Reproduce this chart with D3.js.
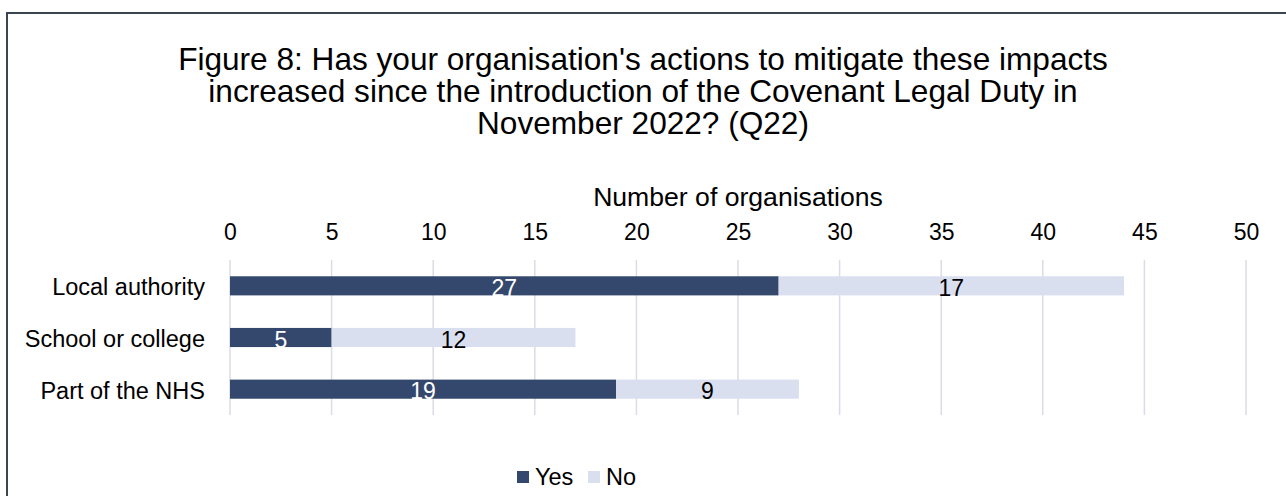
<!DOCTYPE html>
<html><head><meta charset="utf-8">
<script src="https://cdn.jsdelivr.net/npm/d3@7"></script>
<style>body{margin:0;background:#fff}svg{display:block;font-family:"Liberation Sans",Arial,sans-serif}</style>
</head><body><svg id="c" width="1286" height="496"></svg>
<script>
const categories = ["Local authority", "School or college", "Part of the NHS"];
const yesValues = [27, 5, 19];
const noValues = [17, 12, 9];
const seriesNames = ["Yes", "No"];
const tickValues = [0, 5, 10, 15, 20, 25, 30, 35, 40, 45, 50];
const titleLines = ["Figure 8: Has your organisation's actions to mitigate these impacts",
  "increased since the introduction of the Covenant Legal Duty in",
  "November 2022? (Q22)"];
const axisTitle = "Number of organisations";
const colors = ["#34486d", "#dadff0"];
const labelColors = ["#ffffff", "#000000"];

const svg = d3.select("#c");
svg.append("rect").attr("x", 7).attr("y", 13).attr("width", 1300).attr("height", 500)
  .attr("fill", "#fff").attr("stroke", "#3b4550").attr("stroke-width", 2);

svg.append("g").selectAll("text").data(titleLines).join("text")
  .attr("x", 643).attr("y", (d, i) => 70 + i * 32)
  .attr("text-anchor", "middle").attr("font-size", 31.6).attr("fill", "#000").text(d => d);

const x = d3.scaleLinear().domain([0, 50]).range([230, 1246]);
const y = d3.scaleBand().domain(categories).range([260, 415]).paddingInner(0.63).paddingOuter(0.315);

// gridlines
svg.append("g").selectAll("line").data(tickValues).join("line")
  .attr("x1", d => x(d)).attr("x2", d => x(d)).attr("y1", 260).attr("y2", 415)
  .attr("stroke", "#d9dde6").attr("stroke-width", 1.5);

// top axis
const axis = svg.append("g").attr("transform", "translate(0,240)")
  .call(d3.axisTop(x).tickValues(tickValues).tickSize(0).tickPadding(0));
axis.select(".domain").remove();
axis.selectAll("text").attr("font-size", 23).attr("fill", "#000")
  .attr("font-family", "Liberation Sans, Arial, sans-serif").attr("dy", 0);

svg.append("text").attr("x", 738).attr("y", 206).attr("text-anchor", "middle")
  .attr("font-size", 26.6).attr("fill", "#000").text(axisTitle);

// category axis
const yAxis = svg.append("g").attr("transform", "translate(205,2)")
  .call(d3.axisLeft(y).tickSize(0).tickPadding(0));
yAxis.select(".domain").remove();
yAxis.selectAll("text").attr("font-size", 23.5).attr("fill", "#000")
  .attr("font-family", "Liberation Sans, Arial, sans-serif");

const rows = categories.map((c, i) => ({ cat: c, Yes: yesValues[i], No: noValues[i] }));
const stacked = d3.stack().keys(seriesNames)(rows);

const groups = svg.append("g").selectAll("g").data(stacked).join("g")
  .attr("fill", (d, i) => colors[i]);
groups.selectAll("rect").data(d => d).join("rect")
  .attr("x", d => x(d[0])).attr("width", d => x(d[1]) - x(d[0]))
  .attr("y", d => y(d.data.cat)).attr("height", y.bandwidth());

const lg = svg.append("g").selectAll("g").data(stacked).join("g");
lg.each(function (s, si) {
  d3.select(this).selectAll("text").data(s).join("text")
    .attr("x", d => (x(d[0]) + x(d[1])) / 2)
    .attr("y", d => y(d.data.cat) + y.bandwidth() / 2 + 2)
    .attr("dy", "0.35em").attr("text-anchor", "middle")
    .attr("font-size", 23).attr("fill", labelColors[si])
    .text(d => d[1] - d[0]);
});

// legend
const legendItems = [{ name: "Yes", x: 517 }, { name: "No", x: 588 }];
const leg = svg.append("g").selectAll("g").data(legendItems).join("g")
  .attr("transform", d => `translate(${d.x},471)`);
leg.append("rect").attr("width", 12).attr("height", 12).attr("fill", (d, i) => colors[i]);
leg.append("text").attr("x", 18).attr("y", 14).attr("font-size", 23.5).attr("fill", "#000").text(d => d.name);
</script></body></html>
